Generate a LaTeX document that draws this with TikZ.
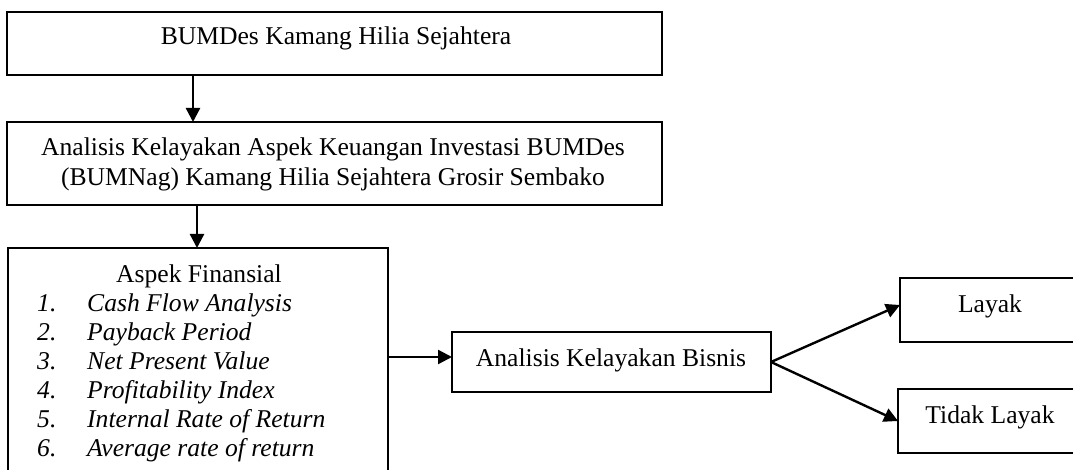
\documentclass[tikz,border=0pt]{standalone}
\usepackage{fontspec}
\setmainfont{Liberation Serif}
\usetikzlibrary{arrows.meta}
\begin{document}
\begin{tikzpicture}[x=1pt,y=-1pt,
  box/.style={draw,line width=1.8pt,rectangle,inner sep=0pt,outer sep=0pt,anchor=north west},
  txt/.style={font=\fontsize{25.6}{30}\selectfont,inner sep=0pt,anchor=base},
  num/.style={font=\fontsize{25.6}{30}\selectfont\itshape,inner sep=0pt,anchor=base west},
  itm/.style={font=\fontsize{25.6}{30}\selectfont\itshape,inner sep=0pt,anchor=base west},
  arr/.style={line width=2.4pt,-{Triangle[length=14pt,width=14pt]}}]
\useasboundingbox (0,0) rectangle (1073,470);
\clip (0,0) rectangle (1073,470);

\node[box,minimum width=655pt,minimum height=63pt] (b1) at (7,12) {};
\node[txt] (t1) at (336,45) {BUMDes Kamang Hilia Sejahtera};

\node[box,minimum width=655pt,minimum height=83pt] (b2) at (7,122) {};
\node[txt] (t2a) at (333,156) {Analisis Kelayakan Aspek Keuangan Investasi BUMDes};
\node[txt] (t2b) at (333,186) {(BUMNag) Kamang Hilia Sejahtera Grosir Sembako};

\node[box,minimum width=380pt,minimum height=240pt] (b3) at (8,248) {};
\node[txt] (t3) at (199,283) {Aspek Finansial};
\node[num] (n1) at (37,311) {1.};
\node[itm] (i1) at (87,311) {Cash Flow Analysis};
\node[num] (n2) at (37,340) {2.};
\node[itm] (i2) at (87,340) {Payback Period};
\node[num] (n3) at (37,369) {3.};
\node[itm] (i3) at (87,369) {Net Present Value};
\node[num] (n4) at (37,398) {4.};
\node[itm] (i4) at (87,398) {Profitability Index};
\node[num] (n5) at (37,427) {5.};
\node[itm] (i5) at (87,427) {Internal Rate of Return};
\node[num] (n6) at (37,456) {6.};
\node[itm] (i6) at (87,456) {Average rate of return};

\node[box,minimum width=319pt,minimum height=60pt] (b4) at (452,332) {};
\node[txt] (t4) at (611,366) {Analisis Kelayakan Bisnis};

\node[box,minimum width=200pt,minimum height=64pt] (b5) at (900,278) {};
\node[txt] (t5) at (990,312) {Layak};

\node[box,minimum width=200pt,minimum height=64pt] (b6) at (898,389) {};
\node[txt] (t6) at (990,423) {Tidak Layak};

\coordinate (x1) at (193,0);
\coordinate (x2) at (197,0);
\coordinate (y3) at (0,357);
\coordinate (ya) at (0,305);
\draw[arr] (b1.south -| x1) -- (b2.north -| x1);
\draw[arr] (b2.south -| x2) -- (b3.north -| x2);
\draw[arr] (b3.east |- y3) -- (b4.west |- y3);
\draw[arr] (b4.east) -- (b5.west |- ya);
\draw[arr] (b4.east) -- (b6.west);
\end{tikzpicture}
\end{document}
